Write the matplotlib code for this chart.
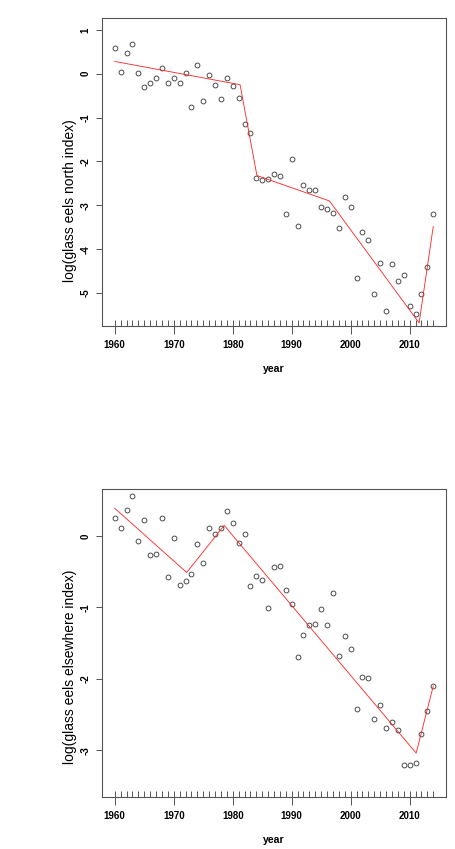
import matplotlib
matplotlib.use("Agg")
import matplotlib.pyplot as plt
import numpy as np

plt.rcParams.update({
    "font.family": "Liberation Sans",
    "font.weight": "bold",
    "axes.unicode_minus": False,
})

# ---------------------------------------------------------------------------
# Data
# ---------------------------------------------------------------------------
years = list(range(1960, 2015))

north = [0.59, 0.03, 0.47, 0.68, 0.01, -0.31, -0.22, -0.10, 0.12, -0.21,
         -0.09, -0.22, 0.02, -0.75, 0.19, -0.62, -0.02, -0.25, -0.57, -0.10,
         -0.29, -0.56, -1.14, -1.34, -2.37, -2.42, -2.40, -2.28, -2.33, -3.20,
         -1.94, -3.46, -2.53, -2.66, -2.64, -3.04, -3.08, -3.18, -3.52, -2.81,
         -3.03, -4.65, -3.61, -3.80, -5.02, -4.31, -5.41, -4.33, -4.72, -4.59,
         -5.30, -5.47, -5.02, -4.41, -3.20]
north_fit_x = [1960, 1981.25, 1984.1, 1996.4, 2011.6, 2014]
north_fit_y = [0.28, -0.25, -2.32, -2.90, -5.68, -3.48]

elsewhere = [0.26, 0.11, 0.36, 0.56, -0.07, 0.23, -0.27, -0.25, 0.26, -0.57,
             -0.03, -0.68, -0.63, -0.53, -0.11, -0.38, 0.11, 0.03, 0.12, 0.35,
             0.18, -0.09, 0.03, -0.70, -0.56, -0.62, -1.01, -0.43, -0.42, -0.75,
             -0.95, -1.70, -1.38, -1.25, -1.23, -1.02, -1.25, -0.80, -1.68, -1.40,
             -1.58, -2.42, -1.98, -1.99, -2.56, -2.36, -2.69, -2.61, -2.72, -3.21,
             -3.20, -3.18, -2.77, -2.45, -2.10]
elsewhere_fit_x = [1960, 1972.2, 1978.55, 2011.1, 2014]
elsewhere_fit_y = [0.39, -0.51, 0.15, -3.04, -2.10]

major_years = [1960, 1970, 1980, 1990, 2000, 2010]

W, H = 456, 849
GREY = "#555555"


def panel(rect, y, fx, fy, ylim, yticks, ylabel, ylab_pos):
    ax = fig.add_axes(rect)
    ax.plot(years, y, "o", ms=3.5, mfc="none", mec="#333333", mew=0.6)
    ax.plot(fx, fy, color="#ff2020", lw=0.6)
    ax.set_xlim(1957.84, 2016.16)
    ax.set_ylim(*ylim)

    ax.set_xticks(major_years)
    ax.set_xticks(years, minor=True)
    ax.xaxis.remove_overlapping_locs = False
    ax.tick_params(axis="x", which="major", direction="out", length=5.8,
                   width=0.7, color=GREY, pad=4.6, labelsize=7)
    ax.tick_params(axis="x", which="minor", direction="in", length=4.3,
                   width=0.7, color=GREY)
    ax.set_yticks(yticks)
    ax.set_yticklabels([str(t) for t in yticks], rotation=90, va="center")
    ax.tick_params(axis="y", direction="out", length=4.3, width=0.7,
                   color=GREY, pad=4.2, labelsize=7)
    for s in ax.spines.values():
        s.set_color(GREY)
        s.set_linewidth(0.8)

    ax.text(0.5, -0.141, "year", transform=ax.transAxes, ha="center",
            va="center", fontsize=7.6, fontweight="bold")
    ax.text(-0.093, ylab_pos, ylabel, transform=ax.transAxes, rotation=90,
            ha="center", va="center", fontsize=10, fontweight="normal")
    return ax


fig = plt.figure(figsize=(W / 100, H / 100), dpi=100)

panel([102 / W, 1 - 326 / H, 344 / W, 308 / H], north, north_fit_x,
      north_fit_y, (-5.75, 1.27), [1, 0, -1, -2, -3, -4, -5],
      "log(glass eels north index)", 0.406)
panel([102 / W, 1 - 797 / H, 344 / W, 308 / H], elsewhere, elsewhere_fit_x,
      elsewhere_fit_y, (-3.655, 0.66), [0, -1, -2, -3],
      "log(glass eels elsewhere index)", 0.424)

fig.savefig("out.png", dpi=100, facecolor="white")
